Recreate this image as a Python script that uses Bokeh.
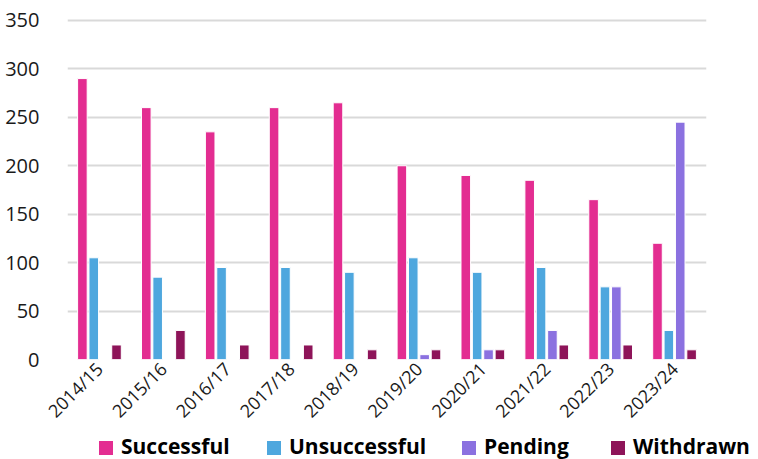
from bokeh.plotting import figure
from bokeh.layouts import column
from bokeh.models import ColumnDataSource, Range1d, FixedTicker, Div
from bokeh.transform import dodge
from bokeh.embed import file_html
from bokeh.resources import INLINE
from math import pi

categories = ["2014/15", "2015/16", "2016/17", "2017/18", "2018/19",
              "2019/20", "2020/21", "2021/22", "2022/23", "2023/24"]
successful = [290, 260, 235, 260, 265, 200, 190, 185, 165, 120]
unsuccessful = [105, 85, 95, 95, 90, 105, 90, 95, 75, 30]
pending = [0, 0, 0, 0, 0, 5, 10, 30, 75, 245]
withdrawn = [15, 30, 15, 15, 10, 10, 10, 15, 15, 10]
y_ticks = [0, 50, 100, 150, 200, 250, 300, 350]

series_names = ["Successful", "Unsuccessful", "Pending", "Withdrawn"]
series_cols = ["successful", "unsuccessful", "pending", "withdrawn"]
series_colors = ["#E32D91", "#4EA7DE", "#8B71E0", "#8E1459"]
series_offsets = [-0.267, -0.089, 0.089, 0.267]
legend_left = [99, 267, 462, 611]   # legend item positions (px)

source = ColumnDataSource(data=dict(cat=categories, successful=successful,
                                    unsuccessful=unsuccessful, pending=pending,
                                    withdrawn=withdrawn))

p = figure(x_range=categories, y_range=Range1d(0, 352), width=758, height=433,
           output_backend="svg", toolbar_location=None,
           min_border_left=67, min_border_right=52, min_border_top=18, min_border_bottom=72)
p.outline_line_color = None
p.background_fill_color = "white"

for col, color, off in zip(series_cols, series_colors, series_offsets):
    p.vbar(x=dodge("cat", off, range=p.x_range), top=col, width=0.15, source=source,
           fill_color=color, line_color="white", line_width=1)

p.xgrid.grid_line_color = None
p.ygrid.grid_line_color = "#D9D9D9"
p.ygrid.grid_line_width = 2
p.yaxis.ticker = FixedTicker(ticks=y_ticks)

for ax in (p.xaxis, p.yaxis):
    ax.axis_line_color = None
    ax.major_tick_line_color = None
    ax.minor_tick_line_color = None
    ax.major_label_text_font = "Open Sans"
    ax.major_label_text_color = "#1a1a1a"

p.yaxis.major_label_text_font_size = "20px"
p.xaxis.major_label_text_font_size = "18px"
p.yaxis.major_label_standoff = 22
p.xaxis.major_label_orientation = pi / 4
p.xaxis.major_label_standoff = 0

# legend strip below the chart
parts = []
for name, color, left in zip(series_names, series_colors, legend_left):
    parts.append(
        f'<div style="position:absolute;left:{left}px;top:0;height:26px;display:flex;'
        f'align-items:center;gap:8px;white-space:nowrap;">'
        f'<span style="display:inline-block;width:14px;height:14px;background:{color};'
        f'margin-top:3px;"></span>'
        f'<span style="font-family:\'Open Sans\';font-weight:bold;font-size:21px;'
        f'line-height:26px;color:#000;">{name}</span></div>')
legend_html = ('<div style="position:relative;width:758px;height:26px;overflow:visible;">'
               + "".join(parts) + '</div>')
legend_div = Div(text=legend_html, width=758, height=26, margin=0)

layout = column(p, legend_div, spacing=0)
open("out.html", "w").write(file_html(layout, INLINE))
